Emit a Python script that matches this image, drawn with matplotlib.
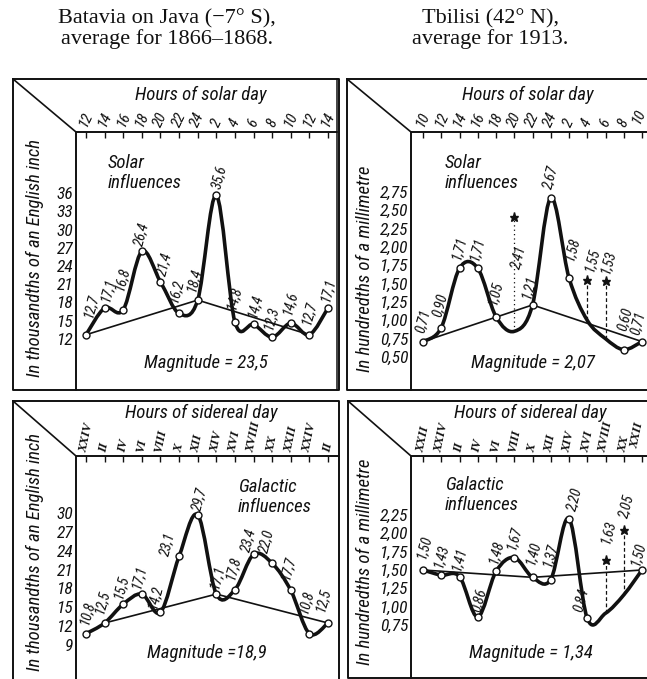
import matplotlib
matplotlib.use("Agg")
import matplotlib.pyplot as plt
import numpy as np
from matplotlib.lines import Line2D
from matplotlib.patches import PathPatch
from matplotlib.path import Path

W, H = 647, 679
INK = "#111111"
NARROW = ["Roboto Condensed", "Liberation Sans Narrow", "Roboto", "DejaVu Sans"]
SERIF = ["Liberation Serif", "DejaVu Serif"]

plt.rcParams["font.family"] = NARROW
plt.rcParams["font.style"] = "italic"

# ---- Batavia, solar day (thousandths of an inch) ----
bat_solar_hours = ["12", "14", "16", "18", "20", "22", "24", "2", "4", "6", "8", "10", "12", "14"]
bat_solar_values = [12.7, 17.1, 16.8, 26.4, 21.4, 16.2, 18.4, 35.6, 14.8, 14.4, 12.3, 14.6, 12.7, 17.1]
bat_solar_yticks = [12, 15, 18, 21, 24, 27, 30, 33, 36]
bat_solar_trend = [0, 6, 12]
bat_solar_magnitude = "23,5"

# ---- Tbilisi, solar day (hundredths of a millimetre) ----
tbi_solar_hours = ["10", "12", "14", "16", "18", "20", "22", "24", "2", "4", "6", "8", "10"]
tbi_solar_curve = [0.71, 0.90, 1.71, 1.71, 1.05, 0.85, 1.21, 2.67, 1.58, 1.00, 0.75, 0.60, 0.71]
tbi_solar_marked = [0, 1, 2, 3, 4, 6, 7, 8, 11, 12]
tbi_solar_star_idx = [5, 9, 10]
tbi_solar_star_values = [2.41, 1.55, 1.53]
tbi_solar_yticks = [0.50, 0.75, 1.00, 1.25, 1.50, 1.75, 2.00, 2.25, 2.50, 2.75]
tbi_solar_trend = [0, 6, 12]
tbi_solar_magnitude = "2,07"

# ---- Batavia, sidereal day ----
bat_sid_hours = ["XXIV", "II", "IV", "VI", "VIII", "X", "XII", "XIV", "XVI", "XVIII", "XX", "XXII", "XXIV", "II"]
bat_sid_values = [10.8, 12.5, 15.5, 17.1, 14.2, 23.1, 29.7, 17.1, 17.8, 23.4, 22.0, 17.7, 10.8, 12.5]
bat_sid_yticks = [9, 12, 15, 18, 21, 24, 27, 30]
bat_sid_trend = [1, 7, 13]
bat_sid_magnitude = "18,9"

# ---- Tbilisi, sidereal day ----
tbi_sid_hours = ["XXII", "XXIV", "II", "IV", "VI", "VIII", "X", "XII", "XIV", "XVI", "XVIII", "XX", "XXII"]
tbi_sid_curve = [1.50, 1.43, 1.41, 0.86, 1.48, 1.67, 1.40, 1.37, 2.20, 0.84, 0.91, 1.16, 1.50]
tbi_sid_marked = [0, 1, 2, 3, 4, 5, 6, 7, 8, 9, 12]
tbi_sid_star_idx = [10, 11]
tbi_sid_star_values = [1.63, 2.05]
tbi_sid_yticks = [0.75, 1.00, 1.25, 1.50, 1.75, 2.00, 2.25]
tbi_sid_trend = [0, 6, 12]
tbi_sid_magnitude = "1,34"


def comma(v, nd):
    return f"{v:.{nd}f}".replace(".", ",")


def fig_line(fig, pts, lw=1.4):
    fig.add_artist(Line2D([p[0] / W for p in pts], [1 - p[1] / H for p in pts], color=INK, lw=lw,
                          transform=fig.transFigure, solid_joinstyle="round", solid_capstyle="round"))


def frame(fig, outer, corner, inner_right):
    l, t, r, b = outer
    cx, cy = corner
    fig_line(fig, [(l, t), (r, t), (r, b), (l, b), (l, t)])
    fig_line(fig, [(l, t), (cx, cy)], lw=1.2)
    fig_line(fig, [(cx, b), (cx, cy), (inner_right, cy)])


def smooth_path(xs, ys):
    # Catmull-Rom through the points, expressed as cubic Bezier segments
    pts = np.column_stack([xs, ys]).astype(float)
    ext = np.vstack([pts[0], pts, pts[-1]])
    verts, codes = [pts[0]], [Path.MOVETO]
    for k in range(len(pts) - 1):
        p0, p1, p2, p3 = ext[k], ext[k + 1], ext[k + 2], ext[k + 3]
        verts += [p1 + (p2 - p0) / 6, p2 - (p3 - p1) / 6, p2]
        codes += [Path.CURVE4] * 3
    return Path(verts, codes)


def make_axes(fig, area, x_first, x_last, n, y_lo, y_hi):
    l, t, r, b = area
    ax = fig.add_axes([l / W, 1 - b / H, (r - l) / W, (b - t) / H])
    sx = (x_last - x_first) / (n - 1)
    ax.set_xlim(-(x_first - l) / sx, (n - 1) + (r - x_last) / sx)
    (v0, p0), (v1, p1) = y_lo, y_hi
    sy = (p0 - p1) / (v1 - v0)
    ax.set_ylim(v0 - (b - p0) / sy, v0 + (p0 - t) / sy)
    ax.patch.set_visible(False)
    for s in ax.spines.values():
        s.set_visible(False)
    return ax


def draw_panel(fig, ax, hours, curve, marked, yticks, ynd, trend, label_nd, label_offsets,
               stars=None, star_offsets=None, star_styles=None, roman=False, last_shift=0):
    x = np.arange(len(curve))
    ax.xaxis.tick_top()
    ax.set_xticks(x)
    if roman:
        hour_kw = dict(rotation=78, fontsize=9, family=SERIF, weight="bold")
    else:
        hour_kw = dict(rotation=65, fontsize=11)
    shown = list(hours)
    if last_shift:
        # the panel runs off the right edge of the page; nudge the last hour label inside it
        shown[-1] = ""
        ax.annotate(hours[-1], (x[-1], 1), xycoords=("data", "axes fraction"), xytext=(-last_shift, 6),
                    textcoords="offset pixels", ha="center", va="bottom", color=INK, **hour_kw)
    ax.set_xticklabels(shown, **hour_kw)
    ax.tick_params(axis="x", direction="in", length=4, width=1, pad=2, colors=INK)
    ax.set_yticks(yticks)
    ax.set_yticklabels([comma(v, ynd) for v in yticks], fontsize=12.5)
    ax.tick_params(axis="y", length=0, pad=2, colors=INK)

    curve = np.asarray(curve, dtype=float)
    ax.plot(x[trend], curve[trend], color=INK, lw=1.2, solid_capstyle="round")
    ax.add_patch(PathPatch(smooth_path(x, curve), fill=False, lw=2.6, ec=INK,
                           capstyle="round", joinstyle="round"))
    if stars is not None:
        for (i, v), ls in zip(stars, star_styles):
            ax.plot([i, i], [curve[i], v], color=INK, lw=0.9, ls=ls)
        ax.plot([s[0] for s in stars], [s[1] for s in stars], "*", ms=6.5, color=INK)
        for (i, v), (dx, dy) in zip(stars, star_offsets):
            ax.annotate(comma(v, 2), (i, v), xytext=(dx, dy), textcoords="offset pixels", rotation=75,
                        ha="center", va="center", rotation_mode="anchor", fontsize=10.5, color=INK)
    ax.plot(x[marked], curve[marked], "o", ms=5, mfc="white", mec=INK, mew=1.0, clip_on=False)
    for i, (dx, dy) in zip(marked, label_offsets):
        ax.annotate(comma(curve[i], label_nd), (i, curve[i]), xytext=(dx, dy + 2), textcoords="offset pixels",
                    rotation=75, ha="center", va="center", rotation_mode="anchor", fontsize=10.5, color=INK)


def ftext(fig, x, y, s, **kw):
    kw.setdefault("ha", "center")
    kw.setdefault("va", "center")
    kw.setdefault("color", INK)
    fig.text(x / W, 1 - y / H, s, **kw)


fig = plt.figure(figsize=(W / 100, H / 100), dpi=100, facecolor="white")

ftext(fig, 167, 29, "Batavia on Java (\u22127\u00b0 S),\naverage for 1866\u20131868.", family=SERIF,
      style="normal", fontsize=16, linespacing=1.05)
ftext(fig, 490, 29, "Tbilisi (42\u00b0 N),\naverage for 1913.", family=SERIF,
      style="normal", fontsize=16, linespacing=1.05)

# panel frames (outer box, inner corner, right end of the top axis line)
frame(fig, (13, 79, 339, 390), (76, 132), 337)
fig_line(fig, [(336.5, 79), (336.5, 390)], lw=1.1)
frame(fig, (347, 79, 670, 390), (411, 132), 670)
frame(fig, (13, 401, 339, 700), (76, 456), 339)
frame(fig, (348, 401, 670, 678), (411, 456), 670)

# Batavia solar
ax1 = make_axes(fig, (76, 132, 337, 390), 86, 328, len(bat_solar_values), (12, 339), (36, 193))
draw_panel(fig, ax1, bat_solar_hours, bat_solar_values, list(range(len(bat_solar_values))),
           bat_solar_yticks, 0, bat_solar_trend, 1,
           [(5, 27), (3, 16), (-1, 29), (0, 15), (4, 16), (-3, 20), (-4, 18), (3, 16),
            (-1, 22), (1, 16), (-1, 17), (-1, 18), (-1, 20), (0, 16)])
ftext(fig, 201, 95, "Hours of solar day", fontsize=13.5)
ftext(fig, 35, 258, "In thousandths of an English inch", rotation=90, fontsize=13.5)
ftext(fig, 108, 173, "Solar\ninfluences", ha="left", fontsize=13.5, linespacing=1.15)
ftext(fig, 206, 363, f"Magnitude = {bat_solar_magnitude}", fontsize=13.5)

# Tbilisi solar
ax2 = make_axes(fig, (411, 132, 647, 390), 423, 642, len(tbi_solar_curve), (0.5, 357), (2.75, 192))
draw_panel(fig, ax2, tbi_solar_hours, tbi_solar_curve, tbi_solar_marked, tbi_solar_yticks, 2,
           tbi_solar_trend, 2,
           [(0, 19), (-1, 21), (-1, 18), (-1, 17), (-1, 22), (-4, 16), (0, 19), (3, 27), (1, 29), (-4, 17)],
           stars=list(zip(tbi_solar_star_idx, tbi_solar_star_values)),
           star_offsets=[(4, -40), (5, 20), (2, 19)],
           star_styles=[(0, (1, 2.5)), (0, (3, 2)), (0, (3, 2))], last_shift=3)
ftext(fig, 528, 95, "Hours of solar day", fontsize=13.5)
ftext(fig, 365, 269, "In hundredths of a millimetre", rotation=90, fontsize=13.5)
ftext(fig, 445, 173, "Solar\ninfluences", ha="left", fontsize=13.5, linespacing=1.15)
ftext(fig, 533, 363, f"Magnitude = {tbi_solar_magnitude}", fontsize=13.5)

# Batavia sidereal
ax3 = make_axes(fig, (76, 456, 337, 679), 86, 328, len(bat_sid_values), (9, 645), (30, 513))
draw_panel(fig, ax3, bat_sid_hours, bat_sid_values, list(range(len(bat_sid_values))),
           bat_sid_yticks, 0, bat_sid_trend, 1,
           [(1, 19), (-3, 19), (-2, 15), (-3, 15), (-6, 13), (-12, 10), (2, 14), (1, 15),
            (-2, 20), (-5, 12), (-6, 20), (-3, 20), (-4, 30), (-5, 21)], roman=True)
ftext(fig, 201, 413, "Hours of sidereal day", fontsize=13.5)
ftext(fig, 35, 552, "In thousandths of an English inch", rotation=90, fontsize=13.5)
ftext(fig, 238, 497, "Galactic\ninfluences", ha="left", fontsize=13.5, linespacing=1.15)
ftext(fig, 207, 653, f"Magnitude ={bat_sid_magnitude}", fontsize=13.5)

# Tbilisi sidereal
ax4 = make_axes(fig, (411, 456, 647, 678), 423, 642, len(tbi_sid_curve), (0.75, 625), (2.25, 515))
draw_panel(fig, ax4, tbi_sid_hours, tbi_sid_curve, tbi_sid_marked, tbi_sid_yticks, 2,
           tbi_sid_trend, 2,
           [(1, 21), (0, 17), (-1, 16), (1, 15), (0, 17), (0, 17), (0, 22), (-1, 22), (5, 18),
            (-6, 16), (-4, 14)],
           stars=list(zip(tbi_sid_star_idx, tbi_sid_star_values)),
           star_offsets=[(2, 28), (3, 24)],
           star_styles=[(0, (3, 2)), (0, (3, 2))], roman=True, last_shift=5)
ftext(fig, 530, 413, "Hours of sidereal day", fontsize=13.5)
ftext(fig, 365, 562, "In hundredths of a millimetre", rotation=90, fontsize=13.5)
ftext(fig, 445, 495, "Galactic\ninfluences", ha="left", fontsize=13.5, linespacing=1.15)
ftext(fig, 531, 653, f"Magnitude = {tbi_sid_magnitude}", fontsize=13.5)

fig.savefig("out.png", dpi=100, facecolor="white")
